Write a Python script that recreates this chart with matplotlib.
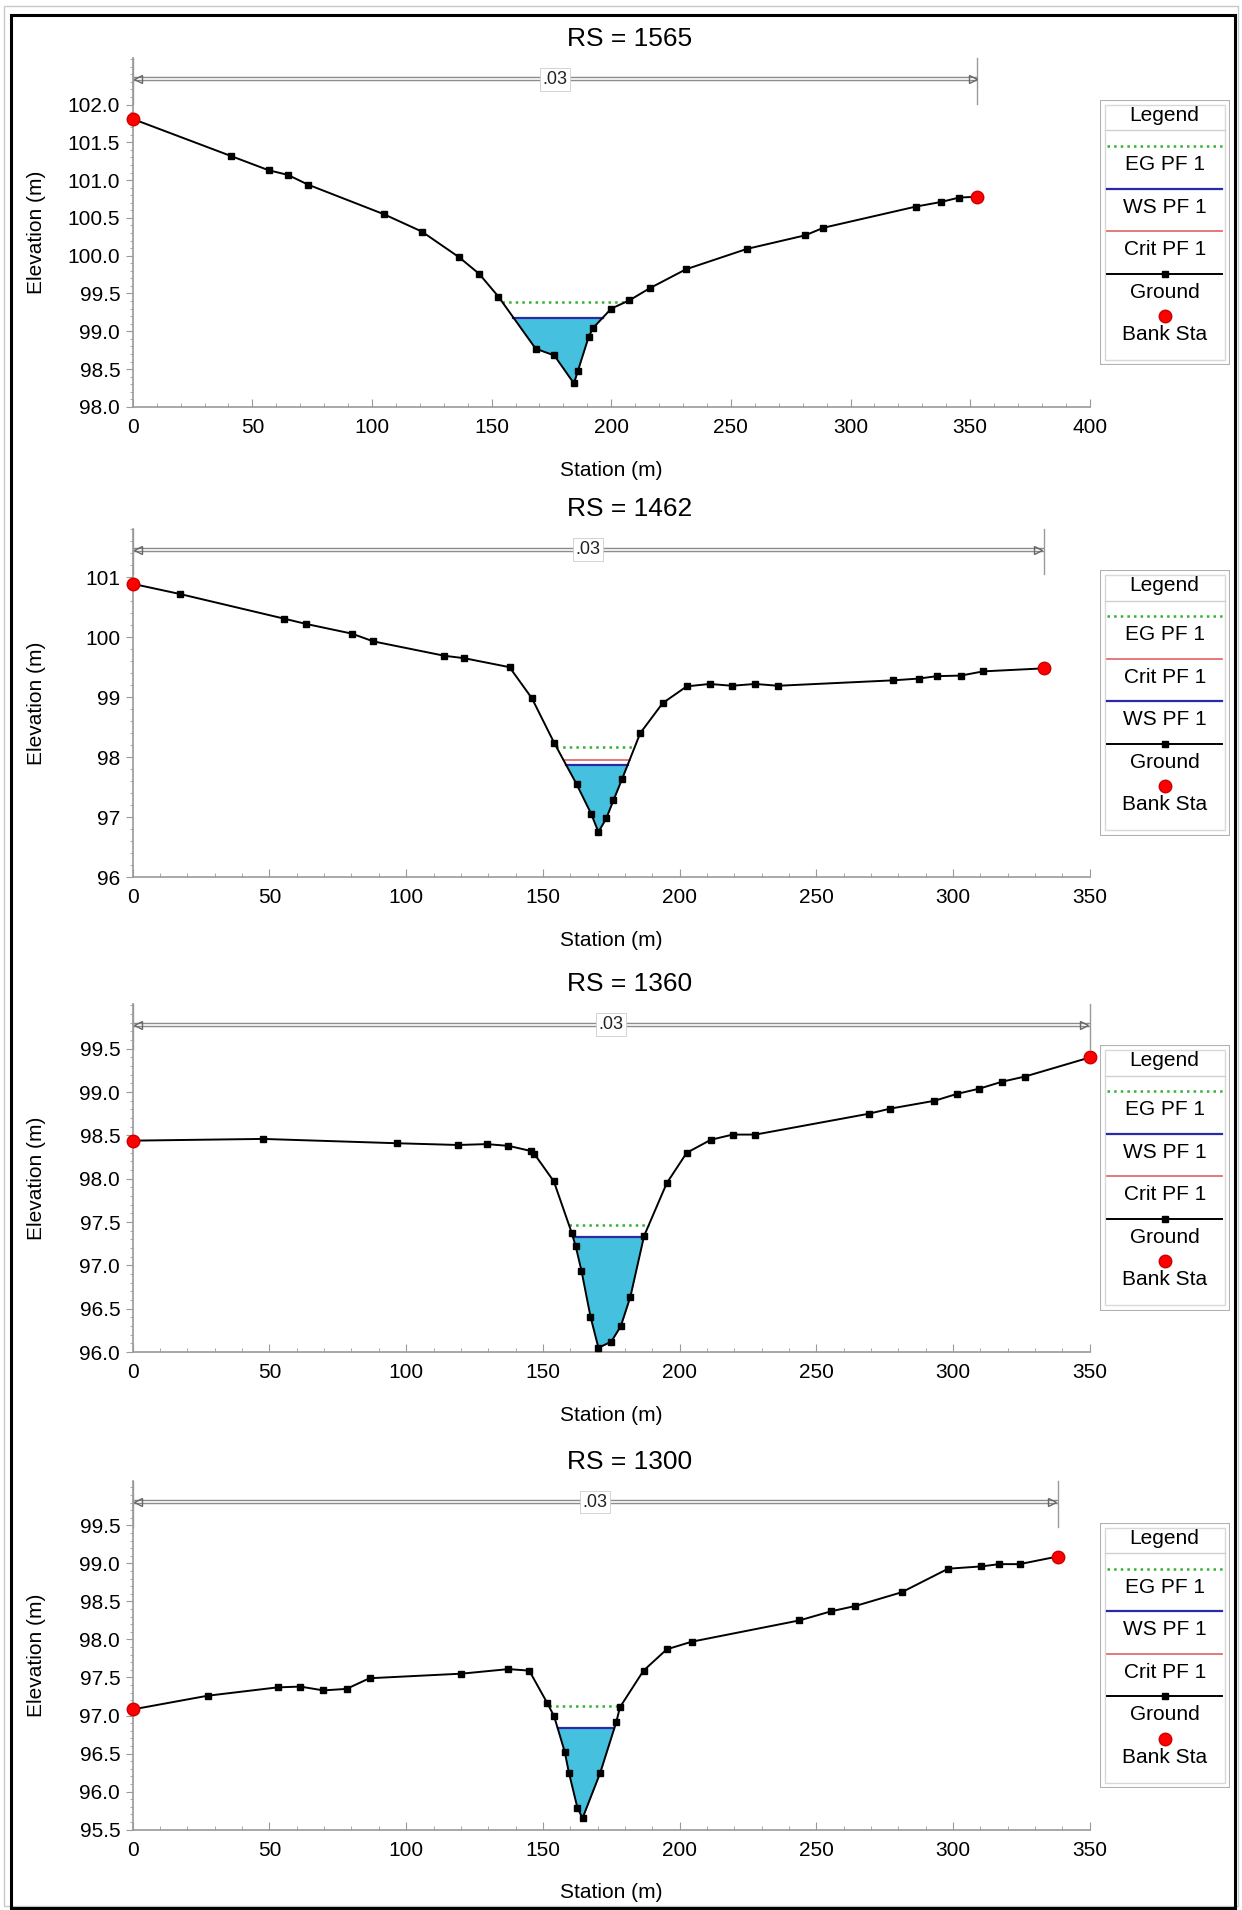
"""HEC-RAS style cross sections for four river stations."""

import matplotlib
matplotlib.use("Agg")
import matplotlib.pyplot as plt
import matplotlib.transforms as mtransforms
import numpy as np
from matplotlib.patches import Rectangle
from matplotlib.ticker import MultipleLocator, FormatStrFormatter, FixedLocator

plt.rcParams["font.family"] = ["Liberation Sans", "DejaVu Sans"]

# ---- data ----
titles = ["RS = 1565", "RS = 1462", "RS = 1360", "RS = 1300"]

st_1565 = [0, 41.0, 56.9, 64.8, 73.3, 104.9, 120.8, 136.4, 144.8, 152.8, 168.4, 176.2,
           184.4, 186.1, 190.5, 192.3, 200.0, 207.6, 216.1, 231.2, 256.7, 281.1, 288.7,
           327.3, 337.7, 345.5, 353.0]
el_1565 = [101.81, 101.32, 101.13, 101.07, 100.94, 100.55, 100.32, 99.98, 99.76, 99.46,
           98.77, 98.68, 98.31, 98.48, 98.92, 99.04, 99.30, 99.41, 99.57, 99.82, 100.09,
           100.27, 100.37, 100.65, 100.71, 100.77, 100.78]

st_1462 = [0, 17.3, 55.3, 63.5, 80.1, 88.0, 114.0, 121.2, 137.8, 146.0, 154.1, 162.3,
           167.7, 170.3, 173.2, 175.8, 179.0, 185.6, 193.8, 202.6, 211.0, 219.1, 227.6,
           236.0, 277.9, 287.5, 294.1, 302.9, 311.0, 333.1]
el_1462 = [100.89, 100.72, 100.31, 100.22, 100.06, 99.93, 99.69, 99.65, 99.50, 98.98,
           98.24, 97.55, 97.05, 96.75, 96.98, 97.28, 97.64, 98.40, 98.90, 99.18, 99.22,
           99.19, 99.22, 99.19, 99.28, 99.31, 99.35, 99.36, 99.43, 99.48]

st_1360 = [0, 47.6, 96.7, 119.0, 129.4, 137.4, 145.7, 146.8, 154.0, 160.5, 162.0, 164.1,
           167.4, 170.3, 175.0, 178.5, 182.0, 187.0, 195.3, 202.6, 211.4, 219.4, 227.7,
           269.1, 277.1, 293.2, 301.5, 309.6, 317.9, 326.3, 350.0]
el_1360 = [98.44, 98.46, 98.41, 98.39, 98.40, 98.38, 98.32, 98.29, 97.97, 97.38, 97.22,
           96.94, 96.41, 96.05, 96.12, 96.30, 96.64, 97.34, 97.95, 98.30, 98.45, 98.51,
           98.51, 98.75, 98.81, 98.90, 98.98, 99.04, 99.12, 99.18, 99.40]

st_1300 = [0, 27.4, 53.0, 61.3, 69.7, 78.2, 86.6, 120.2, 137.4, 145.0, 151.5, 154.1,
           158.0, 159.5, 162.6, 164.5, 171.0, 176.8, 178.2, 186.8, 195.3, 204.4, 243.8,
           255.4, 264.3, 281.2, 298.2, 310.3, 316.9, 324.3, 338.2]
el_1300 = [97.08, 97.26, 97.37, 97.38, 97.33, 97.35, 97.49, 97.55, 97.61, 97.59, 97.17,
           96.99, 96.52, 96.25, 95.79, 95.65, 96.25, 96.91, 97.11, 97.59, 97.87, 97.97,
           98.25, 98.37, 98.44, 98.62, 98.93, 98.96, 98.99, 98.99, 99.09]

stations = [st_1565, st_1462, st_1360, st_1300]
elevations = [el_1565, el_1462, el_1360, el_1300]
ws_pf1 = [99.18, 97.87, 97.33, 96.83]
eg_pf1 = [99.39, 98.17, 97.47, 97.13]
crit_pf1 = [None, 97.95, None, None]
n_value = ".03"

xlims = [(0, 400), (0, 350), (0, 350), (0, 350)]
ylims = [(98.0, 102.61), (96.0, 101.81), (96.0, 100.02), (95.5, 100.08)]
yticks = [
    [98.0, 98.5, 99.0, 99.5, 100.0, 100.5, 101.0, 101.5, 102.0],
    [96, 97, 98, 99, 100, 101],
    [96.0, 96.5, 97.0, 97.5, 98.0, 98.5, 99.0, 99.5],
    [95.5, 96.0, 96.5, 97.0, 97.5, 98.0, 98.5, 99.0, 99.5],
]
ytick_fmt = ["%.1f", "%d", "%.1f", "%.1f"]
legend_orders = [
    ["EG PF 1", "WS PF 1", "Crit PF 1", "Ground", "Bank Sta"],
    ["EG PF 1", "Crit PF 1", "WS PF 1", "Ground", "Bank Sta"],
    ["EG PF 1", "WS PF 1", "Crit PF 1", "Ground", "Bank Sta"],
    ["EG PF 1", "WS PF 1", "Crit PF 1", "Ground", "Bank Sta"],
]

styles = {
    "EG PF 1": dict(color="#34b034", ls=":", lw=1.8),
    "WS PF 1": dict(color="#2a2aa8", ls="-", lw=1.6),
    "Crit PF 1": dict(color="#e07070", ls="-", lw=1.3),
    "Ground": dict(color="black", ls="-", lw=1.4, marker="s", ms=5.0),
    "Bank Sta": dict(color="red", ls="none", marker="o", ms=9.0),
}
water_color = "#45c0de"
axis_gray = "#9a9a9a"


def water_edges(st, el, level):
    st = np.asarray(st, float)
    el = np.asarray(el, float)
    i = int(np.argmin(el))
    j = i
    while j > 0 and el[j - 1] < level:
        j -= 1
    xl = np.interp(level, [el[j], el[j - 1]], [st[j], st[j - 1]])
    k = i
    while k < len(el) - 1 and el[k + 1] < level:
        k += 1
    xr = np.interp(level, [el[k], el[k + 1]], [st[k], st[k + 1]])
    return xl, xr


fig = plt.figure(figsize=(12.42, 19.10), dpi=100)
FH = 1568.0  # layout measured on a 1020x1568 view

# frames
fig.add_artist(Rectangle((0.003, 0.002), 0.994, 0.995, transform=fig.transFigure,
                         fill=False, ec="#c8c8c8", lw=1))
fig.add_artist(Rectangle((9 / 1020, 1 - 1566 / FH), 1005 / 1020, 1554 / FH,
                         transform=fig.transFigure, fill=False, ec="black", lw=2.2))

bottoms = [1 - 334 / FH, 1 - 720 / FH, 1 - 1110 / FH, 1 - 1502 / FH]
ax_left, ax_w, ax_h = 109 / 1020, 786 / 1020, 286 / FH

for p in range(4):
    st = np.asarray(stations[p], float)
    el = np.asarray(elevations[p], float)
    b = bottoms[p]
    ax = fig.add_axes([ax_left, b, ax_w, ax_h])

    # water
    ws = ws_pf1[p]
    ax.fill_between(st, el, ws, where=el < ws, interpolate=True,
                    color=water_color, lw=0, zorder=1)
    for name, level in (("EG PF 1", eg_pf1[p]), ("Crit PF 1", crit_pf1[p]),
                        ("WS PF 1", ws)):
        if level is None:
            continue
        xl, xr = water_edges(st, el, level)
        s = styles[name]
        ax.plot([xl, xr], [level, level], color=s["color"], ls=s["ls"], lw=s["lw"],
                zorder=2)

    # ground and bank stations
    g = styles["Ground"]
    ax.plot(st, el, color=g["color"], lw=g["lw"], marker="s", ms=g["ms"],
            mfc="black", mec="black", zorder=3)
    bk = styles["Bank Sta"]
    ax.plot([st[0], st[-1]], [el[0], el[-1]], ls="none", marker="o", ms=bk["ms"],
            mfc="red", mec="#cc0000", zorder=4, clip_on=False)

    # manning's n bar
    tr = mtransforms.blended_transform_factory(ax.transData, ax.transAxes)
    ax.plot([st[0], st[-1]], [0.94, 0.94], transform=tr, color="#8c8c8c", lw=3.2,
            clip_on=False, zorder=2, solid_capstyle="butt")
    ax.plot([st[0], st[-1]], [0.94, 0.94], transform=tr, color="white", lw=1.2,
            clip_on=False, zorder=2, solid_capstyle="butt")
    for s_end, mk in ((st[0], "<"), (st[-1], ">")):
        ax.plot([s_end, s_end], [0.87, 1.0], transform=tr, color="#9a9a9a", lw=1,
                clip_on=False, zorder=2)
        ax.plot([s_end + (2 if mk == "<" else -2)], [0.94], transform=tr, marker=mk,
                ms=6, mfc="none", mec="#666666", ls="none", clip_on=False, zorder=3)
    ax.text((st[0] + st[-1]) / 2, 0.94, n_value, transform=tr, ha="center",
            va="center", fontsize=13, color="#222222", zorder=4,
            bbox=dict(boxstyle="square,pad=0.15", fc="white", ec="#cccccc", lw=0.6))

    # axes styling
    for side in ("top", "right"):
        ax.spines[side].set_visible(False)
    for side in ("left", "bottom"):
        ax.spines[side].set_color(axis_gray)
        ax.spines[side].set_linewidth(1.2)
    ax.xaxis.set_major_locator(MultipleLocator(50))
    ax.xaxis.set_minor_locator(MultipleLocator(10))
    ax.yaxis.set_major_locator(FixedLocator(yticks[p]))
    step = yticks[p][1] - yticks[p][0]
    ax.yaxis.set_minor_locator(MultipleLocator(step / 5))
    ax.yaxis.set_major_formatter(FormatStrFormatter(ytick_fmt[p]))
    ax.set_xlim(*xlims[p])
    ax.set_ylim(*ylims[p])
    ax.tick_params(axis="x", which="both", direction="in", colors=axis_gray,
                   labelcolor="black", labelsize=15, pad=8)
    ax.tick_params(axis="x", which="major", length=6)
    ax.tick_params(axis="x", which="minor", length=3)
    ax.tick_params(axis="y", which="both", direction="out", colors=axis_gray,
                   labelcolor="black", labelsize=15, pad=4)
    ax.tick_params(axis="y", which="major", length=5)
    ax.tick_params(axis="y", which="minor", length=2.5)

    top = b + ax_h
    fig.text(0.507, top + 16 / FH, titles[p], ha="center", va="center", fontsize=19)
    fig.text(0.492, b - 52 / FH, "Station (m)", ha="center", va="center", fontsize=15)
    fig.text(30 / 1020, b + ax_h / 2, "Elevation (m)", ha="center", va="center",
             rotation=90, fontsize=15)

    # legend box
    box_top = top - 34 / FH
    box_h = 218 / FH
    lax = fig.add_axes([903 / 1020, box_top - box_h, 107 / 1020, box_h])
    lax.set_xlim(0, 1)
    lax.set_ylim(1, 0)
    lax.axis("off")
    lax.add_patch(Rectangle((0.0, 0.0), 1.0, 1.0, fill=False, ec="#b0b0b0", lw=1.5))
    lax.add_patch(Rectangle((0.04, 0.02), 0.92, 0.96, fill=False, ec="#d8d8d8", lw=1))
    lax.text(0.5, 0.058, "Legend", ha="center", va="center", fontsize=15)
    lax.plot([0.04, 0.96], [0.115, 0.115], color="#d0d0d0", lw=1)
    for i, name in enumerate(legend_orders[p]):
        y = 0.174 + i * 0.16
        s = styles[name]
        if name == "Bank Sta":
            lax.plot([0.5], [y], ls="none", marker="o", ms=s["ms"], mfc="red",
                     mec="#cc0000")
        elif name == "Ground":
            lax.plot([0.06, 0.94], [y, y], color="black", lw=s["lw"])
            lax.plot([0.5], [y], ls="none", marker="s", ms=s["ms"], color="black")
        else:
            lax.plot([0.06, 0.94], [y, y], color=s["color"], ls=s["ls"], lw=s["lw"])
        lax.text(0.5, y + 0.07, name, ha="center", va="center", fontsize=15)

fig.savefig("out.png", dpi=100, facecolor="white")
